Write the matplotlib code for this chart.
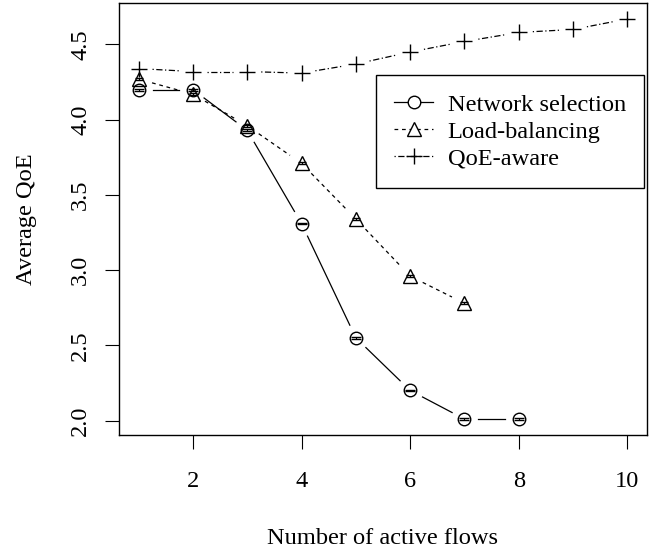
import numpy as np
import matplotlib
matplotlib.use('Agg')
import matplotlib.pyplot as plt
from matplotlib.lines import Line2D

plt.rcParams['font.family'] = ['Liberation Serif', 'DejaVu Serif']

# data
flows = [1, 2, 3, 4, 5, 6, 7, 8, 9, 10]
net_x = [1, 2, 3, 4, 5, 6, 7, 8]
net_y = [4.20, 4.20, 3.93, 3.31, 2.55, 2.20, 2.01, 2.01]
lb_x = [1, 2, 3, 4, 5, 6, 7]
lb_y = [4.27, 4.17, 3.96, 3.71, 3.34, 2.96, 2.78]
qoe_y = [4.34, 4.32, 4.32, 4.31, 4.37, 4.45, 4.52, 4.58, 4.60, 4.67]
err = 0.006

labels = ['Network selection', 'Load-balancing', 'QoE-aware']
xticks = [2, 4, 6, 8, 10]
yticks = [2.0, 2.5, 3.0, 3.5, 4.0, 4.5]

FS = 17.6


def gapped_line(ax, x, y, gap, **kw):
    """line like R type='b': segments stop short of the points"""
    pts = ax.transData.transform(np.column_stack([x, y]))
    inv = ax.transData.inverted()
    for p, q in zip(pts[:-1], pts[1:]):
        d = q - p
        n = np.hypot(*d)
        if n <= 2 * gap:
            continue
        u = d / n
        a, b = inv.transform([p + u * gap, q - u * gap])
        ax.plot([a[0], b[0]], [a[1], b[1]], color='black', lw=0.9, **kw)


def main():
    fig = plt.figure(figsize=(6.57, 5.51), dpi=100)
    ax = fig.add_axes([0.1811, 0.2105, 0.8037, 0.7841])
    ax.set_xlim(0.64, 10.36)
    ax.set_ylim(1.904, 4.776)

    ls_net = '-'
    ls_lb = (0, (3, 3))
    ls_qoe = (0, (1, 2, 5, 2))

    gapped_line(ax, net_x, net_y, 14, ls=ls_net)
    gapped_line(ax, lb_x, lb_y, 14, ls=ls_lb)
    gapped_line(ax, flows, qoe_y, 14, ls=ls_qoe)

    mk = dict(color='black', mfc='none', mec='black', mew=1.0, ls='none')
    ax.plot(net_x, net_y, marker='o', ms=9, **mk)
    ax.plot(lb_x, lb_y, marker='^', ms=10.5, **mk)
    ax.plot(flows, qoe_y, marker='+', ms=12, **mk)
    ax.errorbar(net_x, net_y, yerr=err, fmt='none', ecolor='black', elinewidth=0.8, capsize=3.5)
    ax.errorbar(lb_x, lb_y, yerr=err, fmt='none', ecolor='black', elinewidth=0.8, capsize=3)

    ax.set_xticks(xticks)
    ax.set_xticklabels([str(t) for t in xticks])
    ax.set_yticks(yticks)
    ax.set_yticklabels([f'{t:.1f}' for t in yticks], rotation=90, va='center')
    ax.tick_params(direction='out', length=10, width=0.8, labelsize=FS)
    ax.tick_params(axis='x', pad=16)
    ax.tick_params(axis='y', pad=10)
    for s in ax.spines.values():
        s.set_linewidth(1.0)

    ax.set_xlabel('Number of active flows', fontsize=FS, labelpad=26)
    ax.set_ylabel('Average QoE', fontsize=FS, labelpad=24)

    handles = [
        Line2D([], [], color='black', lw=0.9, ls=ls_net, marker='o', mfc='white', mec='black', ms=9),
        Line2D([], [], color='black', lw=0.9, ls=ls_lb, marker='^', mfc='white', mec='black', ms=10),
        Line2D([], [], color='black', lw=0.9, ls=ls_qoe, marker='+', mec='black', ms=12),
    ]
    leg = ax.legend(handles, labels, loc='upper right', bbox_to_anchor=(0.995, 0.833),
                    borderaxespad=0, fancybox=False, edgecolor='black', framealpha=1,
                    fontsize=FS, handlelength=1.6, handletextpad=0.6,
                    labelspacing=0.2, borderpad=0.75)
    leg.get_frame().set_linewidth(1.0)

    fig.savefig('out.png', dpi=100)


if __name__ == '__main__':
    main()
